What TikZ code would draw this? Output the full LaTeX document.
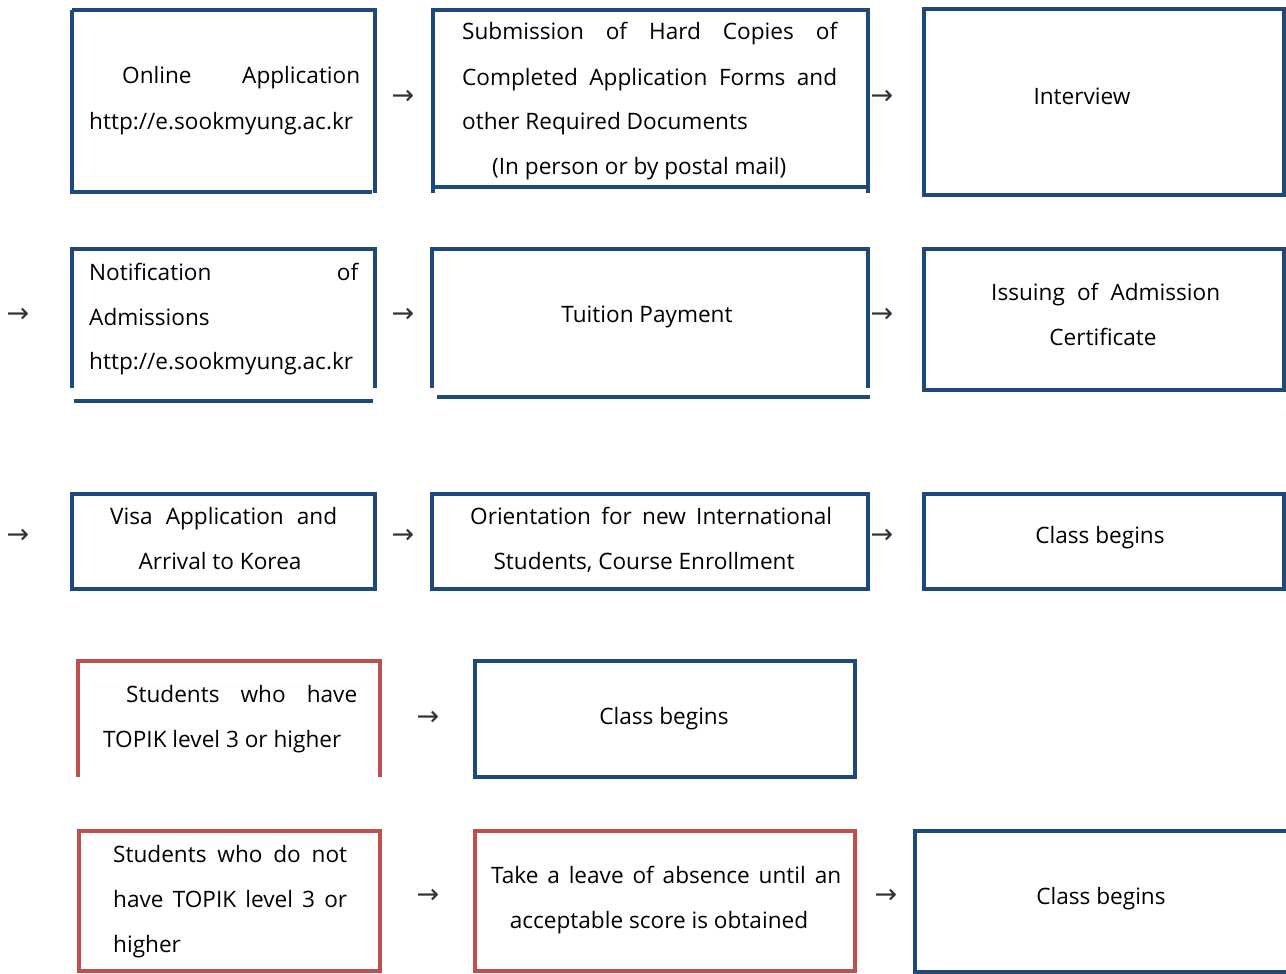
\documentclass[tikz,border=0pt]{standalone}
\usepackage{fontspec}
\setmainfont{Open Sans}
\newfontfamily\arrowfont{DejaVu Sans}
\definecolor{boxblue}{RGB}{31,73,125}
\definecolor{boxred}{RGB}{192,80,77}
\tikzset{
  bl/.style={draw=boxblue, line width=4pt},
  rd/.style={draw=boxred, line width=4pt},
  tl/.style={font=\fontsize{22.6}{26}\selectfont, inner sep=0pt, text=black},
  tw/.style={tl, anchor=base west},
  tc/.style={tl, anchor=base},
  arrowglyph/.style={font=\arrowfont\fontsize{27}{30}\selectfont, inner sep=0pt, text=black!80}
}
\newcommand{\jline}[2]{\makebox[#1][s]{#2}}
\begin{document}
\begin{tikzpicture}[x=1pt,y=-1pt]
\useasboundingbox (0,0) rectangle (1286,974);
% ---------- Row 1 ----------
\draw[bl] (72,10) -- (375,10) -- (375,193) (72,10) -- (72,192) -- (372,192);
\draw[bl] (433,10) rectangle (868,187);
\draw[bl] (433,187) -- (433,193) (868,187) -- (868,193);
\draw[bl] (924,9) rectangle (1284,195);
\node[tw] (a1) at (122,84) {\jline{238pt}{Online Application}};
\node[tw] (a2) at (89,129) {http://e.sookmyung.ac.kr};
\node[tw] (b1) at (462,40) {\jline{375pt}{Submission of Hard Copies of}};
\node[tw] (b2) at (462,85) {\jline{375pt}{Completed Application Forms and}};
\node[tw] (b3) at (462,129) {other Required Documents};
\node[tw] (b4) at (492,174) {(In person or by postal mail)};
\node[tc] (c1) at (1082,104) {Interview};
\node[arrowglyph] (r1a) at (403,97) {→};
\node[arrowglyph] (r1b) at (882,97) {→};
% ---------- Row 2 ----------
\draw[bl] (72,388) -- (72,249) -- (375,249) -- (375,388);
\draw[bl] (74,401) -- (373,401);
\draw[bl] (432,388) -- (432,249) -- (868,249) -- (868,388);
\draw[bl] (437,397) -- (870,397);
\draw[bl] (924,249) rectangle (1284,390);
\node[tw] (d1) at (89,280) {\jline{269pt}{Notification of}};
\node[tw] (d2) at (89,325) {Admissions};
\node[tw] (d3) at (89,369) {http://e.sookmyung.ac.kr};
\node[tc] (e1) at (647,322) {Tuition Payment};
\node[tw] (f1) at (991,300) {\jline{229pt}{Issuing of Admission}};
\node[tc] (f2) at (1103,345) {Certificate};
\node[arrowglyph] (r2a) at (18,315) {→};
\node[arrowglyph] (r2b) at (403,315) {→};
\node[arrowglyph] (r2c) at (882,315) {→};
% ---------- Row 3 ----------
\draw[bl] (72,494) rectangle (375,589);
\draw[bl] (432,494) rectangle (868,589);
\draw[bl] (924,494) rectangle (1284,589);
\node[tw] (g1) at (110,524) {\jline{227pt}{Visa Application and}};
\node[tc] (g2) at (220,569) {Arrival to Korea};
\node[tw] (h1) at (470,524) {\jline{362pt}{Orientation for new International}};
\node[tc] (h2) at (644,569) {Students, Course Enrollment};
\node[tc] (i1) at (1100,543) {Class begins};
\node[arrowglyph] (r3a) at (18,536) {→};
\node[arrowglyph] (r3b) at (403,536) {→};
\node[arrowglyph] (r3c) at (882,536) {→};
% ---------- Row 4 ----------
\draw[rd] (78,777) -- (78,661) -- (380,661) -- (380,777);
\draw[bl] (475,661) rectangle (855,777);
\node[tw] (j1) at (126,702) {\jline{231pt}{Students who have}};
\node[tw] (j2) at (103,747) {TOPIK level 3 or higher};
\node[tc] (k1) at (664,724) {Class begins};
\node[arrowglyph] (r4a) at (428,718) {→};
% ---------- Row 5 ----------
\draw[rd] (79,831) rectangle (380,971);
\draw[rd] (475,831) rectangle (855,971);
\draw[bl] (1290,831) -- (915,831) -- (915,972) -- (1290,972);
\node[tw] (l1) at (113,862) {\jline{234pt}{Students who do not}};
\node[tw] (l2) at (113,907) {\jline{234pt}{have TOPIK level 3 or}};
\node[tw] (l3) at (113,952) {higher};
\node[tw] (m1) at (491,883) {\jline{350pt}{Take a leave of absence until an}};
\node[tc] (m2) at (659,928) {acceptable score is obtained};
\node[tc] (n1) at (1101,904) {Class begins};
\node[arrowglyph] (r5a) at (428,896) {→};
\node[arrowglyph] (r5b) at (886,896) {→};
\end{tikzpicture}
\end{document}
